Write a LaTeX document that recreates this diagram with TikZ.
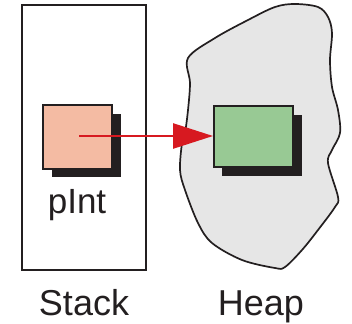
\documentclass[tikz,border=0pt]{standalone}
\usepackage{fontspec}
\setmainfont{Liberation Sans}
\usetikzlibrary{arrows.meta}
\definecolor{pinkbox}{HTML}{F4BBA3}
\definecolor{greenbox}{HTML}{98C994}
\definecolor{heapfill}{HTML}{E6E6E6}
\definecolor{arrowred}{HTML}{D71920}
\definecolor{shadowk}{HTML}{231F20}
\begin{document}
\begin{tikzpicture}[x=1pt,y=-1pt,
  outline/.style={draw=shadowk,line width=2pt},
  shadowbox/.style={fill=shadowk},
  label/.style={font=\fontsize{36}{40}\selectfont,anchor=base,inner sep=0pt,text=shadowk},
  ptr/.style={draw=arrowred,line width=2.6pt,-{Triangle[length=40pt,width=25pt]}}]
\useasboundingbox (0,0) rectangle (352,323);
% stack
\draw[outline] (22,5) rectangle (146,270);
% heap blob
\draw[outline,fill=heapfill,line width=1.7pt] plot[smooth cycle,tension=0.55] coordinates {
 (188,58) (215,38) (248,20) (275,7) (295,4) (318,7) (328,17) (332,33) (330,60) (332,87)
 (338,110) (340,133) (332,150) (328,163) (338,197) (335,207) (318,230) (302,250) (285,267)
 (275,268) (242,260) (212,243) (198,223) (185,190) (180,170) (182,143) (185,133) (188,110) (190,83)};
% pink box with shadow
\fill[shadowbox] (52,114) rectangle (121,177);
\node[outline,fill=pinkbox,minimum width=69pt,minimum height=64pt,inner sep=0pt,anchor=north west] (pint) at (42,104) {};
% green box with shadow
\fill[shadowbox] (222,115) rectangle (302,176);
\node[outline,fill=greenbox,minimum width=79pt,minimum height=61pt,inner sep=0pt,anchor=north west] (obj) at (213,105) {};
% arrow
\coordinate (start) at (79,136);
\draw[ptr] (start) -- (obj.west |- start);
% labels
\node[label,font=\fontsize{35}{40}\selectfont] (pintlbl) at (77,213) {pInt};
\node[label] (stacklbl) at (84,315) {Stack};
\node[label] (heaplbl) at (261,315) {Heap};
\end{tikzpicture}
\end{document}
